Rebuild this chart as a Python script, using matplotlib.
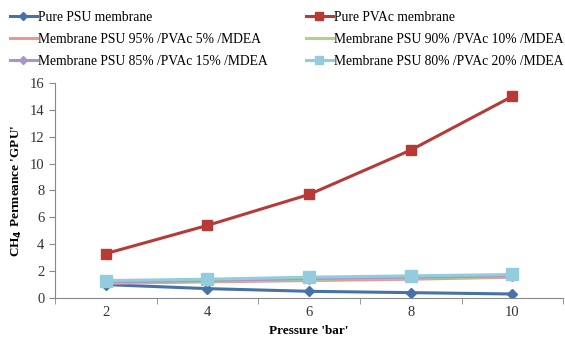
import matplotlib.pyplot as plt
import matplotlib.ticker
import numpy as np

plt.rcParams["font.family"] = ["Liberation Serif", "DejaVu Serif"]

pressure = ["2", "4", "6", "8", "10"]
pure_psu = [1.0, 0.7, 0.5, 0.4, 0.3]
pure_pvac = [3.3, 5.4, 7.7, 11.0, 15.0]
psu95 = [1.1, 1.2, 1.3, 1.4, 1.55]
psu90 = [1.15, 1.25, 1.4, 1.5, 1.6]
psu85 = [1.2, 1.3, 1.45, 1.55, 1.65]
psu80 = [1.3, 1.4, 1.55, 1.65, 1.75]

series = [
    ("Pure PSU membrane", pure_psu, "#4572A7", "D", 5),
    ("Pure PVAc membrane", pure_pvac, "#B63B37", "s", 7),
    ("Membrane PSU 95% /PVAc 5% /MDEA", psu95, "#E79A94", "_", 4),
    ("Membrane PSU 90% /PVAc 10% /MDEA", psu90, "#B3D18B", "_", 4),
    ("Membrane PSU 85% /PVAc 15% /MDEA", psu85, "#A597C9", "D", 5),
    ("Membrane PSU 80% /PVAc 20% /MDEA", psu80, "#93CDDD", "s", 8),
]

fig = plt.figure(figsize=(5.65, 3.41), dpi=100)
ax = fig.add_axes([0.097, 0.126, 0.9, 0.631])

x = np.arange(len(pressure))
for label, vals, col, mk, ms in series:
    ax.plot(x, vals, color=col, marker=mk, markersize=ms, lw=2.2, label=label)

ax.set_xlim(-0.5, len(pressure) - 0.5)
ax.set_ylim(0, 16)
ax.set_yticks(range(0, 17, 2))
ax.set_xticks(x)
ax.set_xticklabels(pressure)
ax.xaxis.set_minor_locator(matplotlib.ticker.FixedLocator(np.arange(-0.5, len(pressure), 1.0)))
ax.tick_params(axis="x", which="major", length=0, labelsize=10.5, pad=6, colors="#333333")
ax.tick_params(axis="x", which="minor", length=4, color="#888888")
ax.tick_params(axis="y", length=4, color="#888888", labelsize=10.5, colors="#333333")
for s in ["top", "right"]:
    ax.spines[s].set_visible(False)
for s in ["left", "bottom"]:
    ax.spines[s].set_color("#888888")

ax.set_xlabel("Pressure 'bar'", fontweight="bold", fontsize=9.5)
ax.set_ylabel("CH$_\\mathbf{4}$ Permeance 'GPU'", fontweight="bold", fontsize=9.5)

handles, labels = ax.get_legend_handles_labels()
order = [0, 2, 4, 1, 3, 5]
fig.legend(
    [handles[i] for i in order],
    [labels[i] for i in order],
    loc="upper left",
    bbox_to_anchor=(0.0, 0.995),
    ncol=2,
    frameon=False,
    fontsize=9.8,
    handlelength=2.0,
    handletextpad=0.08,
    columnspacing=2.8,
    labelspacing=0.66,
    borderaxespad=0.3,
    markerscale=0.8,
)

fig.savefig("out.png", dpi=100)
